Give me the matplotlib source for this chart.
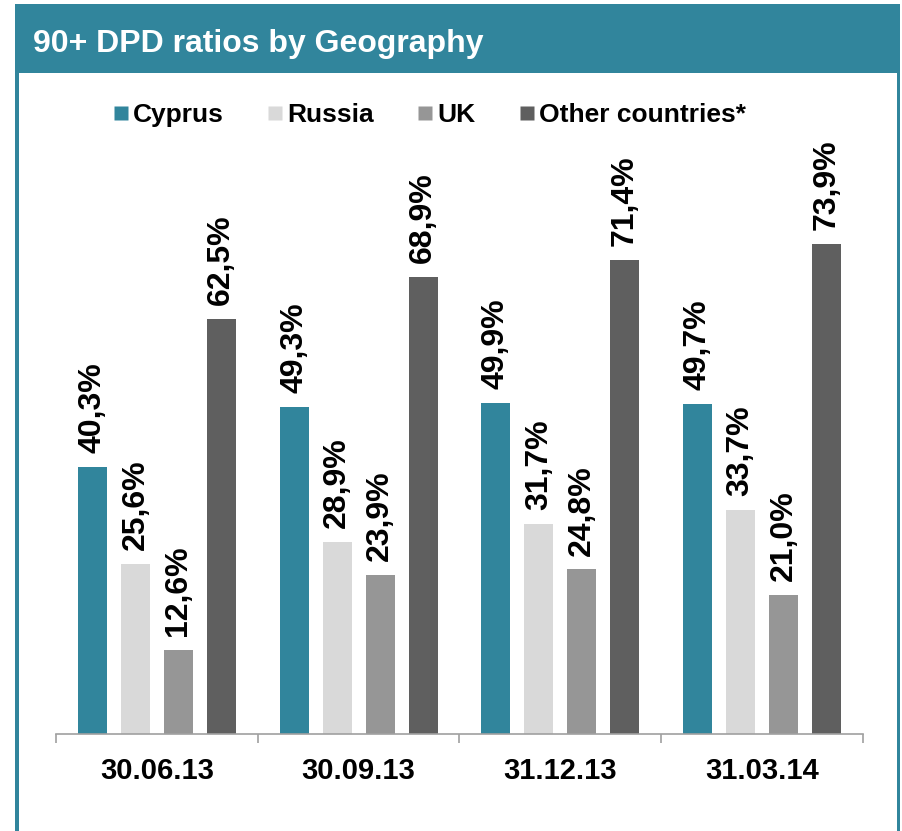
import matplotlib
matplotlib.use("Agg")
import matplotlib.pyplot as plt
import numpy as np
from matplotlib.patches import Rectangle
from matplotlib.lines import Line2D

# Quarter-end dates and 90+ DPD ratios (%) per region
dates = ["30.06.13", "30.09.13", "31.12.13", "31.03.14"]
series_names = ["Cyprus", "Russia", "UK", "Other countries*"]
cyprus = [40.3, 49.3, 49.9, 49.7]
russia = [25.6, 28.9, 31.7, 33.7]
uk = [12.6, 23.9, 24.8, 21.0]
other = [62.5, 68.9, 71.4, 73.9]

TEAL = "#31859C"
colors = [TEAL, "#D9D9D9", "#969696", "#5F5F5F"]

plt.rcParams["font.family"] = ["Liberation Sans", "DejaVu Sans"]
plt.rcParams["font.weight"] = "bold"

W, H = 903, 831
fig = plt.figure(figsize=(W / 100, H / 100), dpi=100)
fig.patch.set_facecolor("white")

# frame and title band
fig.patches.append(Rectangle((15 / W, 0), 4 / W, 1 - 4 / H, transform=fig.transFigure,
                             facecolor=TEAL, edgecolor="none", zorder=0))
fig.patches.append(Rectangle((897 / W, 0), 3 / W, 1 - 4 / H, transform=fig.transFigure,
                             facecolor=TEAL, edgecolor="none", zorder=0))
fig.patches.append(Rectangle((15 / W, 1 - 73 / H), 885 / W, 69 / H, transform=fig.transFigure,
                             facecolor=TEAL, edgecolor="none", zorder=0))
fig.text(33 / W, 1 - 52 / H, "90+ DPD ratios by Geography", color="white",
         fontsize=23, fontweight="bold", ha="left", va="baseline")

ax = fig.add_axes([56 / W, 97 / H, 807 / W, 600 / H])

series = [cyprus, russia, uk, other]
x = np.arange(len(dates))
bar_w = 0.144
step = 0.213
for i, (vals, col) in enumerate(zip(series, colors)):
    pos = x + (i - 1.5) * step
    bars = ax.bar(pos, vals, width=bar_w, color=col, edgecolor="none", zorder=2)
    for b, v in zip(bars, vals):
        ax.annotate(f"{v:.1f}%".replace(".", ","),
                    (b.get_x() + b.get_width() / 2, v),
                    xytext=(0, 10), textcoords="offset points",
                    rotation=90, ha="center", va="bottom",
                    fontsize=23, fontweight="bold")

ax.set_xlim(-0.5, len(dates) - 0.5)
ax.set_ylim(0, 90.4)
ax.set_yticks([])
for s in ["top", "right", "left"]:
    ax.spines[s].set_visible(False)
ax.spines["bottom"].set_color("#A0A0A0")
ax.spines["bottom"].set_linewidth(1.2)

ax.set_xticks(x)
ax.set_xticklabels(dates, fontsize=21, fontweight="bold")
ax.tick_params(axis="x", which="major", length=0, pad=16.5)
ax.set_xticks(np.arange(-0.5, len(dates)), minor=True)
ax.tick_params(axis="x", which="minor", length=6.5, width=1.2, color="#A0A0A0")

handles = [Line2D([], [], marker="s", linestyle="none", markersize=10,
                  markerfacecolor=c, markeredgecolor="none") for c in colors]
fig.legend(handles, series_names, loc="center left", bbox_to_anchor=(114 / W, 1 - 115 / H),
           ncol=4, frameon=False, handlelength=0.53, handletextpad=0.2,
           columnspacing=1.67, borderpad=0, borderaxespad=0,
           prop={"weight": "bold", "size": 19})

fig.savefig("out.png", dpi=100)
